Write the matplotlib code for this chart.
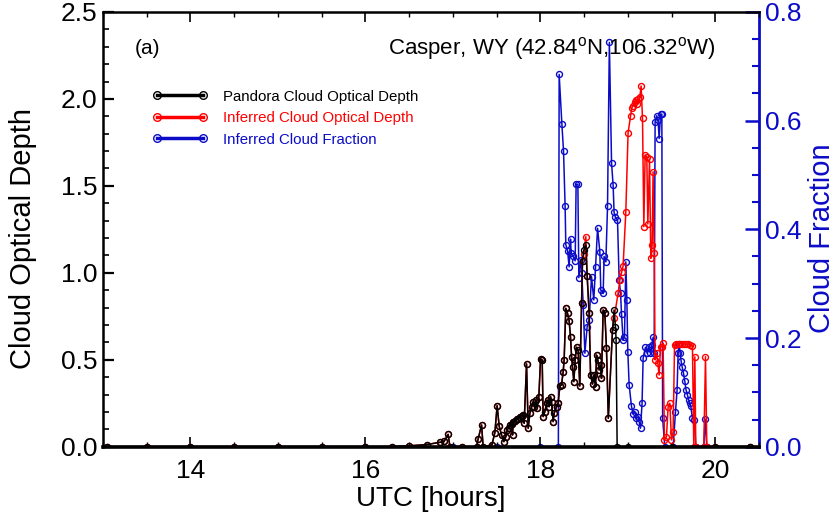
import matplotlib
matplotlib.use("Agg")
import matplotlib.pyplot as plt
from matplotlib.lines import Line2D
from matplotlib.ticker import MultipleLocator, FormatStrFormatter

plt.rcParams['font.family'] = ['Liberation Sans', 'DejaVu Sans']
plt.rcParams['mathtext.fontset'] = 'custom'
plt.rcParams['mathtext.rm'] = 'Liberation Sans'

BLUE = '#0c0cc8'
RED = '#ff0000'

# Pandora cloud optical depth (UTC hours, COD)
pandora_t = [13.05, 13.5, 14.0, 14.5, 15.0, 15.5, 16.0, 16.3, 16.5, 16.7, 16.85, 16.9,
             16.946, 16.966, 17.1, 17.271, 17.289, 17.328, 17.346, 17.446, 17.48, 17.506,
             17.529, 17.557, 17.583, 17.606, 17.621, 17.64, 17.651, 17.671, 17.682, 17.689,
             17.709, 17.728, 17.746, 17.766, 17.785, 17.803, 17.815, 17.842, 17.861, 17.88,
             17.899, 17.918, 17.929, 17.949, 17.963, 17.983, 18.002, 18.021, 18.032, 18.051,
             18.071, 18.089, 18.101, 18.117, 18.128, 18.146, 18.158, 18.185, 18.203, 18.223,
             18.242, 18.261, 18.272, 18.291, 18.311, 18.329, 18.345, 18.357, 18.368, 18.383,
             18.398, 18.414, 18.432, 18.451, 18.471, 18.482, 18.497, 18.52, 18.535, 18.558,
             18.574, 18.597, 18.611, 18.631, 18.642, 18.657, 18.672, 18.688, 18.699, 18.718,
             18.737, 18.756, 18.777, 18.825, 18.843, 18.859, 18.866, 18.878, 19.0, 19.5,
             20.0, 20.4]
pandora_cod = [0.0, 0.0, 0.0, 0.0, 0.0, 0.0, 0.0, 0.0, 0.005, 0.012, 0.025, 0.03,
               0.071, 0.0, 0.0, 0.0, 0.044, 0.125, 0.0, 0.01, 0.081, 0.236,
               0.119, 0.067, 0.029, 0.058, 0.096, 0.11, 0.125, 0.13, 0.067, 0.144,
               0.15, 0.158, 0.162, 0.173, 0.176, 0.182, 0.135, 0.476, 0.106, 0.192,
               0.23, 0.259, 0.23, 0.269, 0.221, 0.288, 0.503, 0.499, 0.173, 0.2,
               0.25, 0.269, 0.23, 0.288, 0.259, 0.144, 0.192, 0.23, 0.25, 0.349,
               0.355, 0.431, 0.499, 0.796, 0.767, 0.725, 0.629, 0.518, 0.456, 0.374,
               0.499, 0.572, 0.556, 0.349, 0.828, 1.07, 1.13, 1.16, 0.982, 0.767,
               0.412, 0.36, 0.41, 0.345, 0.527, 0.5, 0.441, 0.47, 0.393, 0.786,
               0.77, 0.566, 0.163, 0.671, 0.786, 0.69, 0.614, 0.0, 0.0, 0.0,
               0.0, 0.0]

# Inferred cloud optical depth: follows Pandora until ~18.84 UTC
n_shared = pandora_t.index(18.843)
inferred_t = pandora_t[:n_shared] + [
    18.843, 18.889, 18.909, 18.931, 18.946, 18.977, 19.003, 19.031, 19.046, 19.061,
    19.077, 19.091, 19.106, 19.122, 19.137, 19.152, 19.168, 19.183, 19.198, 19.217,
    19.229, 19.248, 19.263, 19.278, 19.289, 19.301, 19.312, 19.328, 19.343, 19.358,
    19.374, 19.389, 19.403, 19.419, 19.442, 19.461, 19.48, 19.499, 19.518, 19.534,
    19.549, 19.571, 19.594, 19.617, 19.64, 19.663, 19.686, 19.709, 19.739, 19.754,
    19.766, 19.777, 19.869, 19.888, 19.903, 20.0, 20.4]
inferred_cod = pandora_cod[:n_shared] + [
    0.74, 0.882, 0.959, 1.006, 1.039, 1.348, 1.806, 1.902, 1.95, 1.959,
    1.984, 1.994, 1.971, 1.998, 2.009, 2.074, 1.888, 1.265, 1.677, 1.668,
    1.281, 1.653, 1.083, 1.16, 1.581, 1.112, 0.499, 0.537, 0.48, 0.412,
    0.575, 0.575, 0.595, 0.039, 0.058, 0.23, 0.25, 0.039, 0.086, 0.585,
    0.59, 0.592, 0.593, 0.592, 0.59, 0.59, 0.588, 0.585, 0.58, 0.0,
    0.517, 0.0, 0.0, 0.517, 0.0, 0.0, 0.0]
# slightly higher inferred peak near 18.5 UTC
inferred_cod[pandora_t.index(18.497)] = 1.106
inferred_cod[pandora_t.index(18.52)] = 1.208

# Inferred cloud fraction
fraction_t = [13.05, 14.0, 15.0, 16.0, 17.0, 17.5, 18.0, 18.206, 18.215, 18.246,
              18.265, 18.283, 18.291, 18.311, 18.329, 18.345, 18.352, 18.375, 18.398, 18.409,
              18.429, 18.44, 18.463, 18.474, 18.49, 18.509, 18.535, 18.558, 18.585, 18.611,
              18.631, 18.654, 18.68, 18.691, 18.718, 18.729, 18.749, 18.768, 18.789, 18.814,
              18.832, 18.843, 18.859, 18.882, 18.901, 18.917, 18.928, 18.946, 18.962, 18.977,
              18.989, 19.0, 19.015, 19.042, 19.061, 19.08, 19.099, 19.118, 19.129, 19.145,
              19.163, 19.175, 19.202, 19.221, 19.24, 19.259, 19.274, 19.289, 19.301, 19.312,
              19.331, 19.346, 19.358, 19.374, 19.389, 19.398, 19.423, 19.518, 19.545, 19.563,
              19.575, 19.586, 19.598, 19.609, 19.621, 19.637, 19.651, 19.666, 19.682, 19.697,
              19.709, 19.72, 19.739, 19.762, 19.777, 19.869, 19.883, 19.903, 20.4]
fraction = [0.0, 0.0, 0.0, 0.0, 0.0, 0.0, 0.0, 0.0, 0.685, 0.594,
            0.544, 0.443, 0.372, 0.361, 0.331, 0.382, 0.356, 0.35, 0.342, 0.483,
            0.483, 0.311, 0.344, 0.319, 0.26, 0.172, 0.221, 0.233, 0.313, 0.27,
            0.331, 0.402, 0.359, 0.288, 0.282, 0.35, 0.34, 0.442, 0.744, 0.522,
            0.481, 0.431, 0.422, 0.417, 0.307, 0.282, 0.245, 0.196, 0.202, 0.34,
            0.27, 0.175, 0.114, 0.074, 0.061, 0.063, 0.052, 0.055, 0.046, 0.034,
            0.08, 0.163, 0.183, 0.172, 0.184, 0.173, 0.187, 0.201, 0.172, 0.598,
            0.609, 0.601, 0.567, 0.612, 0.612, 0.052, 0.0, 0.0, 0.064, 0.104,
            0.172, 0.189, 0.172, 0.158, 0.147, 0.135, 0.121, 0.104, 0.095, 0.085,
            0.08, 0.074, 0.052, 0.05, 0.0, 0.0, 0.051, 0.0, 0.0]

series_labels = ['Pandora Cloud Optical Depth', 'Inferred Cloud Optical Depth',
                 'Inferred Cloud Fraction']

fig = plt.figure(figsize=(8.34, 5.2), dpi=100)
ax = fig.add_axes([0.1235, 0.141, 0.7866, 0.836])
ax2 = ax.twinx()

mk = dict(marker='o', mfc='none', ms=4.3, mew=1.0, lw=1.1)

ax.plot(inferred_t, inferred_cod, color=RED, zorder=2, **mk)
ax2.plot(fraction_t, fraction, color=BLUE, zorder=3, **mk)
ax.set_zorder(ax2.get_zorder() + 1)
ax.patch.set_visible(False)
ax.plot(pandora_t, pandora_cod, color='black', zorder=3, **mk)

ax.set_xlim(13.0, 20.5)
ax.set_ylim(0, 2.5)
ax2.set_ylim(0, 0.8)

ax.xaxis.set_major_locator(MultipleLocator(2))
ax.xaxis.set_minor_locator(MultipleLocator(0.5))
ax.yaxis.set_major_locator(MultipleLocator(0.5))
ax.yaxis.set_minor_locator(MultipleLocator(0.1))
ax.yaxis.set_major_formatter(FormatStrFormatter('%.1f'))
ax2.yaxis.set_major_locator(MultipleLocator(0.2))
ax2.yaxis.set_minor_locator(MultipleLocator(0.05))
ax2.yaxis.set_major_formatter(FormatStrFormatter('%.1f'))

ax.tick_params(axis='x', which='both', direction='in', top=True, labelsize=19, pad=9)
ax.tick_params(axis='x', which='major', length=7, width=1.2)
ax.tick_params(axis='x', which='minor', length=3.5, width=1.0)
ax.tick_params(axis='y', which='both', direction='in', right=False, labelsize=19, pad=4)
ax.tick_params(axis='y', which='major', length=8, width=1.6)
ax.tick_params(axis='y', which='minor', length=4, width=1.2)
ax2.tick_params(axis='y', which='both', direction='in', colors=BLUE, labelsize=19, pad=4)
ax2.tick_params(axis='y', which='major', length=10, width=1.8)
ax2.tick_params(axis='y', which='minor', length=5, width=1.5)

for side in ['left', 'top']:
    ax.spines[side].set_linewidth(1.8)
ax.spines['bottom'].set_linewidth(2.6)
ax.spines['right'].set_visible(False)
for side in ['left', 'top', 'bottom']:
    ax2.spines[side].set_visible(False)
ax2.spines['right'].set_color(BLUE)
ax2.spines['right'].set_linewidth(2.0)

ax.set_xlabel('UTC [hours]', fontsize=20, labelpad=2)
ax.set_ylabel('Cloud Optical Depth', fontsize=21)
ax.yaxis.set_label_coords(-0.100, 0.48)
ax2.set_ylabel('Cloud Fraction', fontsize=21, color=BLUE)
ax2.yaxis.set_label_coords(1.074, 0.48)

ax.text(0.049, 0.917, '(a)', transform=ax.transAxes, fontsize=15, va='center', ha='left')
ax.text(0.934, 0.917, 'Casper, WY (42.84$^{\\rm o}$N,106.32$^{\\rm o}$W)',
        transform=ax.transAxes, fontsize=16, va='center', ha='right')

handles = [Line2D([], [], color=c, marker='o', mfc='none', ms=5.5, mew=1.0, lw=2.5)
           for c in ['black', RED, BLUE]]
leg = ax.legend(handles, series_labels, loc='upper left', bbox_to_anchor=(0.066, 0.835),
                frameon=False, numpoints=2, handlelength=3.7, handletextpad=1.0,
                labelspacing=0.5, fontsize=10.8, borderaxespad=0)
for txt, c in zip(leg.get_texts(), ['black', RED, BLUE]):
    txt.set_color(c)

fig.savefig('out.png', dpi=100)
